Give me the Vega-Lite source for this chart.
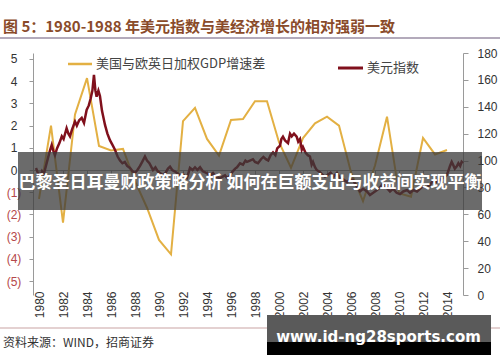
{
  "$schema": "https://vega.github.io/schema/vega-lite/v6.json",
  "width": 430,
  "height": 242,
  "autosize": {"type": "none"},
  "padding": {"left": 33, "top": 53, "right": 37, "bottom": 67},
  "background": "white",
  "config": {"view": {"stroke": null}, "font": "Liberation Sans", "axis": {"labelOverlap": false}},
  "datasets": {
    "gdp": [
      {"year": 1980, "gdp": -1.3}, {"year": 1981, "gdp": 2.0}, {"year": 1982, "gdp": -2.37},
      {"year": 1983, "gdp": 2.5}, {"year": 1984, "gdp": 4.14}, {"year": 1985, "gdp": 1.08},
      {"year": 1986, "gdp": 0.88}, {"year": 1987, "gdp": 0.95}, {"year": 1988, "gdp": -0.5},
      {"year": 1989, "gdp": -1.7}, {"year": 1990, "gdp": -3.15}, {"year": 1991, "gdp": -3.8},
      {"year": 1992, "gdp": 2.2}, {"year": 1993, "gdp": 2.8}, {"year": 1994, "gdp": 1.4},
      {"year": 1995, "gdp": 0.65}, {"year": 1996, "gdp": 2.25}, {"year": 1997, "gdp": 2.3},
      {"year": 1998, "gdp": 3.1}, {"year": 1999, "gdp": 3.1}, {"year": 2000, "gdp": 1.25},
      {"year": 2001, "gdp": 0.1}, {"year": 2002, "gdp": 1.44}, {"year": 2003, "gdp": 2.1},
      {"year": 2004, "gdp": 2.4}, {"year": 2005, "gdp": 2.0}, {"year": 2006, "gdp": -0.1},
      {"year": 2007, "gdp": -1.4}, {"year": 2008, "gdp": 0.2}, {"year": 2009, "gdp": 2.4},
      {"year": 2010, "gdp": -1.05}, {"year": 2011, "gdp": -1.2}, {"year": 2012, "gdp": 1.44},
      {"year": 2013, "gdp": 0.7}, {"year": 2014, "gdp": 0.9}
    ],
    "dxy": [
      {"t": 1979.75, "dxy": 94.5}, {"t": 1979.9, "dxy": 91}, {"t": 1980.08, "dxy": 88},
      {"t": 1980.25, "dxy": 92}, {"t": 1980.4, "dxy": 90}, {"t": 1980.55, "dxy": 95},
      {"t": 1980.75, "dxy": 102}, {"t": 1980.9, "dxy": 107}, {"t": 1981.06, "dxy": 111.6},
      {"t": 1981.2, "dxy": 107}, {"t": 1981.33, "dxy": 104}, {"t": 1981.5, "dxy": 109},
      {"t": 1981.7, "dxy": 113}, {"t": 1981.9, "dxy": 118}, {"t": 1982.05, "dxy": 116},
      {"t": 1982.3, "dxy": 124}, {"t": 1982.45, "dxy": 120}, {"t": 1982.58, "dxy": 118},
      {"t": 1982.75, "dxy": 123}, {"t": 1983.0, "dxy": 129}, {"t": 1983.15, "dxy": 126},
      {"t": 1983.35, "dxy": 130}, {"t": 1983.56, "dxy": 131.7}, {"t": 1983.75, "dxy": 128},
      {"t": 1983.97, "dxy": 137.6}, {"t": 1984.15, "dxy": 141}, {"t": 1984.3, "dxy": 146},
      {"t": 1984.45, "dxy": 152}, {"t": 1984.58, "dxy": 163.7}, {"t": 1984.7, "dxy": 152},
      {"t": 1984.8, "dxy": 147.5}, {"t": 1984.95, "dxy": 152}, {"t": 1985.08, "dxy": 148},
      {"t": 1985.25, "dxy": 137}, {"t": 1985.5, "dxy": 126.5}, {"t": 1985.7, "dxy": 120},
      {"t": 1985.92, "dxy": 115}, {"t": 1986.1, "dxy": 112}, {"t": 1986.33, "dxy": 108},
      {"t": 1986.55, "dxy": 103}, {"t": 1986.75, "dxy": 100}, {"t": 1986.95, "dxy": 98},
      {"t": 1987.15, "dxy": 99}, {"t": 1987.35, "dxy": 96}, {"t": 1987.58, "dxy": 94.5},
      {"t": 1987.8, "dxy": 92}, {"t": 1988.0, "dxy": 90.8}, {"t": 1988.2, "dxy": 93},
      {"t": 1988.42, "dxy": 96}, {"t": 1988.6, "dxy": 99}, {"t": 1988.83, "dxy": 103},
      {"t": 1989.0, "dxy": 100}, {"t": 1989.2, "dxy": 98}, {"t": 1989.5, "dxy": 93},
      {"t": 1989.7, "dxy": 95}, {"t": 1989.9, "dxy": 92}, {"t": 1990.08, "dxy": 90.7},
      {"t": 1990.33, "dxy": 89}, {"t": 1990.55, "dxy": 91}, {"t": 1990.75, "dxy": 94},
      {"t": 1990.92, "dxy": 95.5}, {"t": 1991.1, "dxy": 93}, {"t": 1991.3, "dxy": 92},
      {"t": 1991.5, "dxy": 90.8}, {"t": 1991.75, "dxy": 89}, {"t": 1992.0, "dxy": 90},
      {"t": 1992.15, "dxy": 88}, {"t": 1992.33, "dxy": 87}, {"t": 1992.58, "dxy": 94.5},
      {"t": 1992.8, "dxy": 93}, {"t": 1993.0, "dxy": 95}, {"t": 1993.2, "dxy": 93},
      {"t": 1993.42, "dxy": 95}, {"t": 1993.65, "dxy": 92}, {"t": 1993.9, "dxy": 91},
      {"t": 1994.1, "dxy": 90}, {"t": 1994.25, "dxy": 89}, {"t": 1994.5, "dxy": 90.8},
      {"t": 1994.75, "dxy": 88}, {"t": 1995.08, "dxy": 87}, {"t": 1995.3, "dxy": 88},
      {"t": 1995.5, "dxy": 89}, {"t": 1995.67, "dxy": 87}, {"t": 1995.92, "dxy": 89},
      {"t": 1996.15, "dxy": 92}, {"t": 1996.35, "dxy": 94}, {"t": 1996.5, "dxy": 95},
      {"t": 1996.75, "dxy": 98}, {"t": 1997.0, "dxy": 97}, {"t": 1997.2, "dxy": 100},
      {"t": 1997.33, "dxy": 99}, {"t": 1997.58, "dxy": 100}, {"t": 1997.83, "dxy": 101},
      {"t": 1998.0, "dxy": 99}, {"t": 1998.25, "dxy": 98}, {"t": 1998.5, "dxy": 101},
      {"t": 1998.7, "dxy": 102.7}, {"t": 1998.9, "dxy": 101}, {"t": 1999.1, "dxy": 100},
      {"t": 1999.3, "dxy": 104}, {"t": 1999.5, "dxy": 106}, {"t": 1999.7, "dxy": 104},
      {"t": 1999.85, "dxy": 109}, {"t": 2000.08, "dxy": 111}, {"t": 2000.2, "dxy": 116},
      {"t": 2000.33, "dxy": 117.8}, {"t": 2000.5, "dxy": 115}, {"t": 2000.75, "dxy": 113},
      {"t": 2000.92, "dxy": 120}, {"t": 2001.06, "dxy": 118}, {"t": 2001.25, "dxy": 120},
      {"t": 2001.47, "dxy": 117.8}, {"t": 2001.6, "dxy": 114}, {"t": 2001.75, "dxy": 116},
      {"t": 2001.9, "dxy": 108}, {"t": 2002.0, "dxy": 110}, {"t": 2002.2, "dxy": 106},
      {"t": 2002.4, "dxy": 104}, {"t": 2002.58, "dxy": 103}, {"t": 2002.72, "dxy": 97},
      {"t": 2002.83, "dxy": 99}, {"t": 2003.0, "dxy": 95}, {"t": 2003.14, "dxy": 93},
      {"t": 2003.4, "dxy": 91.5}, {"t": 2003.67, "dxy": 89}, {"t": 2003.83, "dxy": 88},
      {"t": 2004.0, "dxy": 89}, {"t": 2004.3, "dxy": 91}, {"t": 2004.55, "dxy": 88},
      {"t": 2004.83, "dxy": 90.8}, {"t": 2005.08, "dxy": 87}, {"t": 2005.35, "dxy": 86},
      {"t": 2005.67, "dxy": 84}, {"t": 2005.9, "dxy": 86}, {"t": 2006.17, "dxy": 85.6},
      {"t": 2006.45, "dxy": 81}, {"t": 2006.75, "dxy": 77}, {"t": 2007.0, "dxy": 79},
      {"t": 2007.33, "dxy": 77}, {"t": 2007.58, "dxy": 74.4}, {"t": 2007.85, "dxy": 76},
      {"t": 2008.17, "dxy": 78}, {"t": 2008.42, "dxy": 80}, {"t": 2008.67, "dxy": 83},
      {"t": 2008.95, "dxy": 80}, {"t": 2009.25, "dxy": 77}, {"t": 2009.5, "dxy": 79},
      {"t": 2009.8, "dxy": 76}, {"t": 2010.08, "dxy": 75}, {"t": 2010.35, "dxy": 77},
      {"t": 2010.67, "dxy": 78}, {"t": 2010.92, "dxy": 76}, {"t": 2011.2, "dxy": 78},
      {"t": 2011.5, "dxy": 77}, {"t": 2011.75, "dxy": 79}, {"t": 2012.0, "dxy": 81},
      {"t": 2012.3, "dxy": 80}, {"t": 2012.58, "dxy": 82}, {"t": 2012.83, "dxy": 85},
      {"t": 2013.1, "dxy": 84}, {"t": 2013.42, "dxy": 86}, {"t": 2013.7, "dxy": 87},
      {"t": 2013.97, "dxy": 89}, {"t": 2014.1, "dxy": 92}, {"t": 2014.25, "dxy": 96},
      {"t": 2014.39, "dxy": 99}, {"t": 2014.5, "dxy": 97}, {"t": 2014.65, "dxy": 94},
      {"t": 2014.8, "dxy": 95.5}, {"t": 2014.95, "dxy": 98}, {"t": 2015.1, "dxy": 96},
      {"t": 2015.22, "dxy": 99}, {"t": 2015.33, "dxy": 98}
    ],
    "one": [{}]
  },
  "layer": [
    {
      "data": {"name": "gdp"},
      "mark": {"type": "line", "color": "#E3B043", "strokeWidth": 2},
      "encoding": {
        "x": {
          "field": "year", "type": "quantitative",
          "scale": {"domain": [1979.5, 2015.333], "nice": false, "zero": false},
          "axis": {
            "values": [1980, 1982, 1984, 1986, 1988, 1990, 1992, 1994, 1996, 1998, 2000, 2002, 2004, 2006, 2008, 2010, 2012, 2014],
            "format": "d", "title": null, "grid": false,
            "offset": -125, "tickSize": 4, "labelPadding": 117,
            "labelAngle": 270, "labelFontSize": 12, "labelColor": "#333333",
            "labelFont": "Liberation Sans", "labelOverlap": false,
            "domainColor": "#9a9a9a", "tickColor": "#9a9a9a"
          }
        },
        "y": {
          "field": "gdp", "type": "quantitative",
          "scale": {"domain": [-5.63, 5.27], "nice": false, "zero": false},
          "axis": {
            "values": [-5, -4, -3, -2, -1, 0, 1, 2, 3, 4, 5],
            "title": null, "grid": false, "orient": "left",
            "tickSize": 4, "labelPadding": 15.5, "labelAlign": "center",
            "labelFontSize": 12, "labelFont": "Liberation Sans", "labelOverlap": false,
            "labelExpr": "datum.value < 0 ? '(' + (-datum.value) + ')' : '' + datum.value",
            "labelColor": {"condition": {"test": "datum.value < 0", "value": "#b5484b"}, "value": "#333333"},
            "domainColor": "#9a9a9a", "tickColor": "#9a9a9a"
          }
        }
      }
    },
    {
      "data": {"name": "dxy"},
      "mark": {"type": "line", "color": "#80101c", "strokeWidth": 2.5},
      "encoding": {
        "x": {"field": "t", "type": "quantitative", "scale": {"domain": [1979.5, 2015.333], "nice": false, "zero": false}, "axis": null},
        "y": {
          "field": "dxy", "type": "quantitative",
          "scale": {"domain": [0, 180], "nice": false},
          "axis": {
            "orient": "right", "values": [0, 20, 40, 60, 80, 100, 120, 140, 160, 180],
            "title": null, "grid": false, "tickSize": 5, "labelPadding": 9,
            "labelFontSize": 12, "labelFont": "Liberation Sans", "labelColor": "#333333",
            "domainColor": "#9a9a9a", "tickColor": "#9a9a9a"
          }
        }
      }
    },
    {
      "data": {"name": "one"},
      "encoding": {
        "x": {"datum": 1990, "type": "quantitative", "scale": {"domain": [1979.5, 2015.333], "nice": false, "zero": false}, "axis": null},
        "y": {"datum": 0, "type": "quantitative", "scale": {"domain": [-5.63, 5.27], "nice": false, "zero": false}, "axis": null}
      },
      "layer": [
        {
          "mark": {"type": "rule", "color": "#E3B043", "strokeWidth": 2.5},
          "encoding": {
            "x": {"datum": 1982.417, "type": "quantitative", "scale": {"domain": [1979.5, 2015.333], "nice": false, "zero": false}, "axis": null},
            "x2": {"datum": 1984.417},
            "y": {"datum": 4.775, "type": "quantitative", "scale": {"domain": [-5.63, 5.27], "nice": false, "zero": false}, "axis": null}
          }
        },
        {
          "mark": {"type": "text", "text": "美国与欧英日加权GDP增速差", "align": "left", "baseline": "middle", "fontSize": 13, "font": "Noto Sans CJK SC", "color": "#444444"},
          "encoding": {
            "x": {"datum": 1984.75, "type": "quantitative", "scale": {"domain": [1979.5, 2015.333], "nice": false, "zero": false}, "axis": null},
            "y": {"datum": 4.775, "type": "quantitative", "scale": {"domain": [-5.63, 5.27], "nice": false, "zero": false}, "axis": null}
          }
        },
        {
          "mark": {"type": "rule", "color": "#80101c", "strokeWidth": 3},
          "encoding": {
            "x": {"datum": 2004.917, "type": "quantitative", "scale": {"domain": [1979.5, 2015.333], "nice": false, "zero": false}, "axis": null},
            "x2": {"datum": 2007.0},
            "y": {"datum": 4.594, "type": "quantitative", "scale": {"domain": [-5.63, 5.27], "nice": false, "zero": false}, "axis": null}
          }
        },
        {
          "mark": {"type": "text", "text": "美元指数", "align": "left", "baseline": "middle", "fontSize": 13, "font": "Noto Sans CJK SC", "color": "#444444"},
          "encoding": {
            "x": {"datum": 2007.333, "type": "quantitative", "scale": {"domain": [1979.5, 2015.333], "nice": false, "zero": false}, "axis": null},
            "y": {"datum": 4.594, "type": "quantitative", "scale": {"domain": [-5.63, 5.27], "nice": false, "zero": false}, "axis": null}
          }
        },
        {
          "mark": {"type": "text", "text": "图 5：1980-1988 年美元指数与美经济增长的相对强弱一致", "align": "left", "baseline": "middle", "fontSize": 15, "fontWeight": "bold", "font": "Noto Sans CJK SC", "color": "#8a4b2a"},
          "encoding": {
            "x": {"datum": 1977.0, "type": "quantitative", "scale": {"domain": [1979.5, 2015.333], "nice": false, "zero": false}, "axis": null},
            "y": {"datum": 6.441, "type": "quantitative", "scale": {"domain": [-5.63, 5.27], "nice": false, "zero": false}, "axis": null}
          }
        },
        {
          "mark": {"type": "rule", "color": "#b3aabb", "strokeWidth": 2},
          "encoding": {
            "x": {"datum": 1976.75, "type": "quantitative", "scale": {"domain": [1979.5, 2015.333], "nice": false, "zero": false}, "axis": null},
            "x2": {"datum": 2018.417},
            "y": {"datum": 5.946, "type": "quantitative", "scale": {"domain": [-5.63, 5.27], "nice": false, "zero": false}, "axis": null}
          }
        },
        {
          "mark": {"type": "rule", "color": "#c9a3a3", "strokeWidth": 1},
          "encoding": {
            "x": {"datum": 1976.75, "type": "quantitative", "scale": {"domain": [1979.5, 2015.333], "nice": false, "zero": false}, "axis": null},
            "x2": {"datum": 2018.417},
            "y": {"datum": -7.117, "type": "quantitative", "scale": {"domain": [-5.63, 5.27], "nice": false, "zero": false}, "axis": null}
          }
        },
        {
          "mark": {"type": "text", "text": "资料来源：WIND，招商证券", "align": "left", "baseline": "middle", "fontSize": 12, "font": "Noto Sans CJK SC", "color": "#333333"},
          "encoding": {
            "x": {"datum": 1977.0, "type": "quantitative", "scale": {"domain": [1979.5, 2015.333], "nice": false, "zero": false}, "axis": null},
            "y": {"datum": -7.793, "type": "quantitative", "scale": {"domain": [-5.63, 5.27], "nice": false, "zero": false}, "axis": null}
          }
        },
        {
          "mark": {"type": "rect", "color": "#3a3a3a", "opacity": 0.75},
          "encoding": {
            "x": {"datum": 1978.25, "type": "quantitative", "scale": {"domain": [1979.5, 2015.333], "nice": false, "zero": false}, "axis": null},
            "x2": {"datum": 2016.917},
            "y": {"datum": 0.811, "type": "quantitative", "scale": {"domain": [-5.63, 5.27], "nice": false, "zero": false}, "axis": null},
            "y2": {"datum": -1.802}
          }
        },
        {
          "mark": {"type": "text", "text": "巴黎圣日耳曼财政策略分析 如何在巨额支出与收益间实现平衡", "align": "center", "baseline": "middle", "fontSize": 17, "fontWeight": "bold", "font": "Noto Sans CJK SC", "color": "#ffffff"},
          "encoding": {
            "x": {"datum": 1997.583, "type": "quantitative", "scale": {"domain": [1979.5, 2015.333], "nice": false, "zero": false}, "axis": null},
            "y": {"datum": -0.586, "type": "quantitative", "scale": {"domain": [-5.63, 5.27], "nice": false, "zero": false}, "axis": null}
          }
        },
        {
          "mark": {"type": "rect", "color": "#5a5a5a"},
          "encoding": {
            "x": {"datum": 1999.0, "type": "quantitative", "scale": {"domain": [1979.5, 2015.333], "nice": false, "zero": false}, "axis": null},
            "x2": {"datum": 2017.667},
            "y": {"datum": -6.532, "type": "quantitative", "scale": {"domain": [-5.63, 5.27], "nice": false, "zero": false}, "axis": null},
            "y2": {"datum": -7.748}
          }
        },
        {
          "mark": {"type": "rect", "color": "#000000"},
          "encoding": {
            "x": {"datum": 1999.0, "type": "quantitative", "scale": {"domain": [1979.5, 2015.333], "nice": false, "zero": false}, "axis": null},
            "x2": {"datum": 2017.667},
            "y": {"datum": -7.748, "type": "quantitative", "scale": {"domain": [-5.63, 5.27], "nice": false, "zero": false}, "axis": null},
            "y2": {"datum": -8.333}
          }
        },
        {
          "mark": {"type": "text", "text": "www.id-ng28sports.com", "align": "center", "baseline": "middle", "fontSize": 15, "fontWeight": "bold", "font": "DejaVu Sans", "color": "#ffffff"},
          "encoding": {
            "x": {"datum": 2008.29, "type": "quantitative", "scale": {"domain": [1979.5, 2015.333], "nice": false, "zero": false}, "axis": null},
            "y": {"datum": -7.523, "type": "quantitative", "scale": {"domain": [-5.63, 5.27], "nice": false, "zero": false}, "axis": null}
          }
        }
      ]
    }
  ],
  "resolve": {"scale": {"x": "independent", "y": "independent"}}
}
